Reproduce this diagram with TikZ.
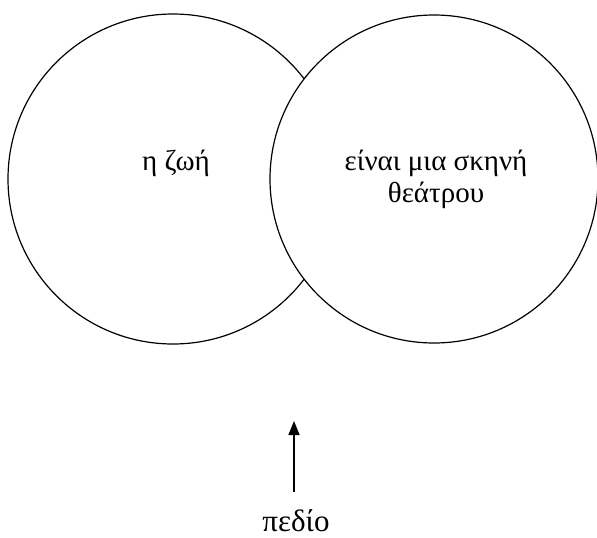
\documentclass[tikz,border=0pt]{standalone}
\usepackage{fontspec}
\setmainfont{Liberation Serif}
\usetikzlibrary{arrows.meta}
\begin{document}
\begin{tikzpicture}[x=1pt,y=-1pt,
  ring/.style={circle,draw,line width=1.2pt,inner sep=0pt,minimum size=330pt},
  label/.style={font=\fontsize{29}{32}\selectfont,anchor=base,align=center,inner sep=0pt},
  arrowline/.style={line width=1.6pt,-{Triangle[length=14pt,width=11pt]}}]
\useasboundingbox (0,0) rectangle (597,538);
\node[ring] (left) at (173,179) {};
\node[ring,fill=white,minimum size=328pt] (right) at (434,179) {};
\node[label] (zoi) at (176,170) {η ζωή};
\node[label] (skini) at (436,170) {είναι μια σκηνή};
\node[label] (theatrou) at (436,202) {θεάτρου};
\node[label,font=\fontsize{31}{34}\selectfont] (pedio) at (296,531) {πεδίο};
\coordinate (tail) at (294,492);
\coordinate (tip) at (294,421);
\draw[arrowline] (tail) -- (tip);
\end{tikzpicture}
\end{document}
